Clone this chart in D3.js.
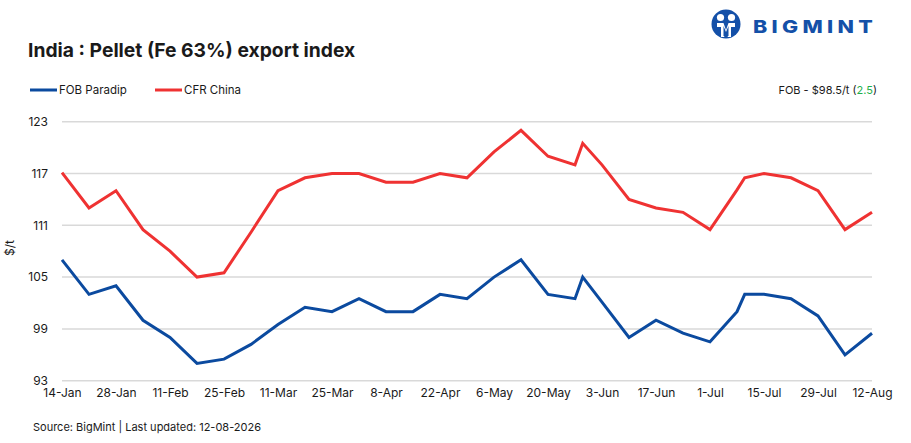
<!DOCTYPE html>
<html lang="en">
<head>
<meta charset="UTF-8">
<script src="https://d3js.org/d3.v7.min.js"></script>
<style>
  body { margin: 0; background: #fff; }
  svg text { font-family: Inter, "Liberation Sans", Arial, sans-serif; fill: #1a1a1a; }
</style>
</head>
<body>
<div id="chart"></div>
<script>
// weekly index dates (plus two mid-week prints)
var dates = ["2026-01-14","2026-01-21","2026-01-28","2026-02-04","2026-02-11","2026-02-18","2026-02-25",
  "2026-03-04","2026-03-11","2026-03-18","2026-03-25","2026-04-01","2026-04-08","2026-04-15","2026-04-22",
  "2026-04-29","2026-05-06","2026-05-13","2026-05-20","2026-05-27","2026-05-29","2026-06-03","2026-06-10",
  "2026-06-17","2026-06-24","2026-07-01","2026-07-08","2026-07-10","2026-07-15","2026-07-22","2026-07-29",
  "2026-08-05","2026-08-12"];

var fobParadip = [107, 103, 104, 100, 98, 95, 95.5,
  97.2, 99.5, 101.5, 101, 102.5, 101, 101, 103,
  102.5, 105, 107, 103, 102.5, 105, 102.1, 98,
  100, 98.5, 97.5, 101, 103, 103, 102.5, 100.5,
  96, 98.5];

var cfrChina = [117.1, 113, 115, 110.5, 108, 105, 105.5,
  110.2, 115, 116.5, 117, 117, 116, 116, 117,
  116.5, 119.5, 122, 119, 118, 120.5, 118, 114,
  113, 112.5, 110.5, 115.1, 116.5, 117, 116.5, 115,
  110.5, 112.5];

var yTicks = [93, 99, 105, 111, 117, 123];
var xTickDates = ["2026-01-14","2026-01-28","2026-02-11","2026-02-25","2026-03-11","2026-03-25","2026-04-08",
  "2026-04-22","2026-05-06","2026-05-20","2026-06-03","2026-06-17","2026-07-01","2026-07-15","2026-07-29","2026-08-12"];

var seriesNames = ["FOB Paradip", "CFR China"];
var seriesColors = ["#0b4a9f", "#ef3232"];

var width = 911, height = 443;
var parse = d3.timeParse("%Y-%m-%d");

var svg = d3.select("#chart").append("svg")
  .attr("width", width)
  .attr("height", height);

var x = d3.scaleTime()
  .domain([parse(dates[0]), parse(dates[dates.length - 1])])
  .range([62, 872]);

var y = d3.scaleLinear()
  .domain([93, 123])
  .range([380.7, 121.7]);

// gridlines
svg.append("g")
  .selectAll("line")
  .data(yTicks)
  .enter().append("line")
  .attr("x1", 62).attr("x2", 872)
  .attr("y1", function (d) { return y(d); })
  .attr("y2", function (d) { return y(d); })
  .attr("stroke", "#d9d9d9")
  .attr("stroke-width", 1.5);

// y axis labels
var yAxis = d3.axisLeft(y).tickValues(yTicks).tickSize(0).tickPadding(0);
svg.append("g")
  .attr("transform", "translate(48,0)")
  .call(yAxis)
  .call(function (g) { g.select(".domain").remove(); })
  .selectAll("text")
  .attr("font-size", 12)
  .attr("fill", "#1a1a1a");

// x axis labels
var xAxis = d3.axisBottom(x)
  .tickValues(xTickDates.map(parse))
  .tickFormat(d3.timeFormat("%-d-%b"))
  .tickSize(0).tickPadding(0);
svg.append("g")
  .attr("transform", "translate(0,388)")
  .call(xAxis)
  .call(function (g) { g.select(".domain").remove(); })
  .selectAll("text")
  .attr("font-size", 12)
  .attr("fill", "#1a1a1a");

svg.selectAll(".tick text").style("font-family", "Inter, 'Liberation Sans', Arial, sans-serif");

// lines
var line = d3.line()
  .x(function (d) { return x(d.date); })
  .y(function (d) { return y(d.value); });

[fobParadip, cfrChina].forEach(function (vals, i) {
  var pts = dates.map(function (dt, j) { return { date: parse(dt), value: vals[j] }; });
  svg.append("path")
    .datum(pts)
    .attr("fill", "none")
    .attr("stroke", seriesColors[i])
    .attr("stroke-width", 3)
    .attr("stroke-linejoin", "miter")
    .attr("d", line);
});

// axis title
svg.append("text")
  .attr("transform", "translate(14,248) rotate(-90)")
  .attr("text-anchor", "middle")
  .attr("font-size", 12)
  .text("$/t");

// title
svg.append("text")
  .attr("x", 28).attr("y", 57)
  .attr("font-size", 19.3)
  .attr("font-weight", 700)
  .text("India : Pellet (Fe 63%) export index");

// legend
var legendX = [30, 155];
seriesNames.forEach(function (name, i) {
  svg.append("line")
    .attr("x1", legendX[i]).attr("x2", legendX[i] + 27)
    .attr("y1", 90).attr("y2", 90)
    .attr("stroke", seriesColors[i])
    .attr("stroke-width", 3);
  svg.append("text")
    .attr("x", legendX[i] + 29).attr("y", 94)
    .attr("font-size", 11.5)
    .text(name);
});

// latest value note
var latest = fobParadip[fobParadip.length - 1];
var change = latest - fobParadip[fobParadip.length - 2];
var note = svg.append("text")
  .attr("x", 877).attr("y", 94)
  .attr("text-anchor", "end")
  .attr("font-size", 11);
note.append("tspan").text("FOB - $" + latest + "/t (");
note.append("tspan").attr("fill", "#1fae4b").style("fill", "#1fae4b").text(change);
note.append("tspan").text(")");

// source
svg.append("text")
  .attr("x", 33).attr("y", 431)
  .attr("font-size", 11)
  .text("Source: BigMint | Last updated: 12-08-2026");

// logo
var logo = svg.append("g").attr("transform", "translate(726,24)");
logo.append("circle").attr("r", 14.5).attr("fill", "#1450a8");
logo.append("circle").attr("cx", -5.5).attr("cy", -6.5).attr("r", 3.6).attr("fill", "#fff");
logo.append("circle").attr("cx", 5.5).attr("cy", -6.5).attr("r", 3.6).attr("fill", "#fff");
logo.append("path")
  .attr("d", "M-9,-1 L-2.5,-1 L0,6 L2.5,-1 L9,-1 L9,3 L5,3 L5,13 L2,13 L0,9 L-2,13 L-5,13 L-5,3 L-9,3 Z")
  .attr("fill", "#fff");
logo.append("path")
  .attr("d", "M-2.5,2 L0,8 L2.5,2 L2.5,12 L-2.5,12 Z")
  .attr("fill", "#1450a8");
svg.append("text")
  .attr("x", 753).attr("y", 32.5)
  .attr("font-size", 17.5)
  .attr("font-weight", 800)
  .attr("letter-spacing", 3.5)
  .attr("textLength", 124)
  .attr("lengthAdjust", "spacingAndGlyphs")
  .style("fill", "#1450a8")
  .text("BIGMINT");
</script>
</body>
</html>
